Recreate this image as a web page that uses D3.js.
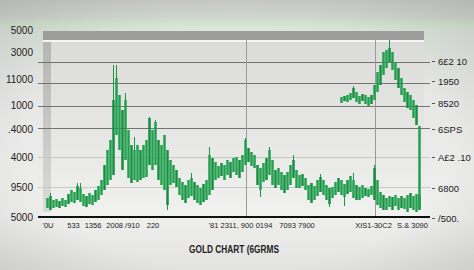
<!DOCTYPE html>
<html>
<head>
<meta charset="utf-8">
<script src="https://cdn.jsdelivr.net/npm/d3@7"></script>
<style>
  body { margin: 0; background: #e9e9e8; }
  svg { display: block; }
  text { font-family: "Liberation Sans", Arial, sans-serif; fill: #222; }
</style>
</head>
<body>
<div id="chart-area"></div>
<script>
// ---- data ----
// main series, candle bodies
var highs = [190,210,170,180,160,190,170,230,270,250,310,290,230,210,240,220,270,310,370,520,
  670,770,1170,1390,1220,1070,1170,870,720,670,720,670,720,770,990,870,950,770,720,820,
  670,570,520,470,390,350,320,370,390,350,320,290,330,370,620,590,550,510,540,520,
  570,550,590,600,570,620,770,690,650,620,520,490,540,590,670,570,470,490,450,420,
  450,520,570,470,420,430,390,320,340,310,370,400,370,320,290,300,350,390,370,330,
  370,410,370,320,300,320,290,280,310,490,370,250,220,190,210,200,220,190,210,190,
  220,240,210,230,220];
var lows = [90,70,90,100,90,110,100,130,150,140,170,150,110,100,130,120,150,170,220,270,
  320,370,420,820,670,470,570,390,340,370,350,370,390,400,520,470,520,370,320,270,
  120,320,340,300,220,170,140,190,210,170,140,120,150,170,220,270,370,390,410,370,
  420,390,450,420,390,450,520,550,510,490,320,270,350,370,420,320,290,320,270,240,
  270,320,390,290,290,310,270,170,140,170,210,250,220,170,130,190,220,250,220,200,
  230,250,190,170,170,190,210,200,220,170,120,90,70,70,100,70,110,70,90,80,
  50,90,70,50,70];
// wick extremes [index, value]
var spikes = [[1,240],[10,340],[11,340],[22,1520],[23,1520],[26,1240],[29,800],[34,1000],
  [36,970],[40,70],[48,440],[54,700],[66,790],[71,200],[74,700],[82,620],[91,430],
  [94,100],[99,110],[102,440],[109,520]];

// upper series on the right, starts at candle 98
var upperStart = 98;
var upperHighs = [1200,1210,1220,1240,1290,1250,1210,1230,1220,1200,1220,1320,1450,1520,
  1650,1670,1690,1650,1550,1490,1390,1290,1250,1220,1170,1120,910];
var upperLows = [1140,1160,1150,1170,1190,1150,1130,1160,1130,1110,1130,1170,1250,1320,
  1420,1490,1550,1470,1370,1290,1220,1150,1090,1070,990,920,90];
var upperSpikes = [[102,1310],[114,1770]];

// axis labels
var leftTickValues = [1870,1650,1380,1120,880,600,300,0];
var leftTickLabels = ["5000","3000","11000","1000",".4000","4000","9500","5000"];
var rightTickValues = [1560,1360,1140,880,600,290,-10];
var rightTickLabels = ["6£2 10","1950","8520","6SPS","A£2 .10","6800","/500."];
var gridDark = [1550,1340,1110,890];
var gridLight = [600,300];
var xTickIdx = [0,8.5,15,25,35,61,72,83,108.5,121.5];
var xTickLabels = ["'0U","533","1356","2008 /910","220","'81 2311, 900","0194","7093 7900","XIS1-30C2","S.& 3090"];
var vLineIdx = [66, 109.3];

var W = 474, H = 270;

var svg = d3.select("#chart-area").append("svg")
    .attr("width", W).attr("height", H);

var defs = svg.append("defs");

// page background gradient with green glow near the top
var bg = defs.append("linearGradient").attr("id", "bg")
    .attr("x1", 0).attr("y1", 0).attr("x2", 0).attr("y2", 1);
[[0, "#cdcfcd"], [0.06, "#d3d8d2"], [0.095, "#d6e8d3"], [0.11, "#dde6dc"],
 [0.3, "#e6e6e5"], [0.8, "#efefee"], [1, "#e2e2e1"]].forEach(function(s){
    bg.append("stop").attr("offset", s[0]).attr("stop-color", s[1]);
});
var vig = defs.append("radialGradient").attr("id", "vig")
    .attr("cx", 0.5).attr("cy", 0.55).attr("r", 0.75);
vig.append("stop").attr("offset", 0.6).attr("stop-color", "#000").attr("stop-opacity", 0);
vig.append("stop").attr("offset", 1).attr("stop-color", "#000").attr("stop-opacity", 0.12);

var plotBg = defs.append("linearGradient").attr("id", "plotbg")
    .attr("x1", 0).attr("y1", 0).attr("x2", 0).attr("y2", 1);
plotBg.append("stop").attr("offset", 0).attr("stop-color", "#dbdbda");
plotBg.append("stop").attr("offset", 1).attr("stop-color", "#f1f1f0");

var strip = defs.append("linearGradient").attr("id", "strip")
    .attr("x1", 0).attr("y1", 0).attr("x2", 0).attr("y2", 1);
strip.append("stop").attr("offset", 0).attr("stop-color", "#b5b5b4");
strip.append("stop").attr("offset", 1).attr("stop-color", "#dadad9");

svg.append("rect").attr("width", W).attr("height", H).attr("fill", "url(#bg)");
svg.append("rect").attr("width", W).attr("height", H).attr("fill", "url(#vig)");

// scales
var x = d3.scaleLinear().domain([0, 124]).range([47.5, 419.5]);
var y = d3.scaleLinear().domain([0, 1770]).range([217, 40]);

// plot panel
svg.append("rect").attr("x", 43).attr("y", 40).attr("width", 381).attr("height", 177)
    .attr("fill", "url(#plotbg)");
svg.append("rect").attr("x", 43).attr("y", 31).attr("width", 381).attr("height", 9)
    .attr("fill", "#9d9d9c");
svg.append("rect").attr("x", 43).attr("y", 40).attr("width", 381).attr("height", 2)
    .attr("fill", "#f5f5f5");
svg.append("rect").attr("x", 43).attr("y", 42).attr("width", 8).attr("height", 170)
    .attr("fill", "url(#strip)");

// gridlines
svg.selectAll(".grid-dark").data(gridDark).enter().append("line")
    .attr("x1", 38).attr("x2", 430)
    .attr("y1", function(d){ return Math.round(y(d)) + 0.5; })
    .attr("y2", function(d){ return Math.round(y(d)) + 0.5; })
    .attr("stroke", "#737373").attr("stroke-width", 1);
svg.selectAll(".grid-light").data(gridLight).enter().append("line")
    .attr("x1", 38).attr("x2", 430)
    .attr("y1", function(d){ return Math.round(y(d)) + 0.5; })
    .attr("y2", function(d){ return Math.round(y(d)) + 0.5; })
    .attr("stroke", "#c9c9c8").attr("stroke-width", 1);
svg.selectAll(".vline").data(vLineIdx).enter().append("line")
    .attr("x1", function(d){ return Math.round(x(d)) + 0.5; })
    .attr("x2", function(d){ return Math.round(x(d)) + 0.5; })
    .attr("y1", 40).attr("y2", 217)
    .attr("stroke", "#9a9a9a").attr("stroke-width", 1);

// candles
function drawCandles(cls, offset, hi, lo, sp) {
    var idx = d3.range(hi.length);
    svg.selectAll("." + cls + "-wick").data(sp).enter().append("line")
        .attr("x1", function(d){ return x(d[0]); })
        .attr("x2", function(d){ return x(d[0]); })
        .attr("y1", function(d){ return y(d[1]); })
        .attr("y2", function(d){ return y((hi[d[0] - offset] + lo[d[0] - offset]) / 2); })
        .attr("stroke", "#1d9645").attr("stroke-width", 1);
    svg.selectAll("." + cls).data(idx).enter().append("rect")
        .attr("x", function(i){ return x(i + offset) - 1.25; })
        .attr("width", 2.5)
        .attr("y", function(i){ return y(hi[i]); })
        .attr("height", function(i){ return y(lo[i]) - y(hi[i]); })
        .attr("fill", function(i){ return i % 3 == 1 ? "#168f41" : "#21a14d"; });
}
drawCandles("main", 0, highs, lows, spikes);
drawCandles("upper", upperStart, upperHighs, upperLows, upperSpikes);

// baseline
svg.append("line").attr("x1", 38).attr("x2", 430).attr("y1", 217).attr("y2", 217)
    .attr("stroke", "#111").attr("stroke-width", 2);

// left axis labels
var leftAxis = d3.axisLeft(y).tickValues(leftTickValues).tickSize(0).tickPadding(0)
    .tickFormat(function(d, i){ return leftTickLabels[i]; });
svg.append("g").attr("transform", "translate(33,0)").call(leftAxis)
    .call(function(g){ g.select(".domain").remove(); })
    .selectAll("text").style("font-size", "10px").attr("fill", "#1e1e1e");

// right axis labels with small tick marks
var rightAxis = d3.axisRight(y).tickValues(rightTickValues).tickSize(3).tickPadding(3)
    .tickFormat(function(d, i){ return rightTickLabels[i]; });
var ra = svg.append("g").attr("transform", "translate(432,0)").call(rightAxis);
ra.select(".domain").remove();
ra.selectAll("line").attr("stroke", "#555");
ra.selectAll("text").style("font-size", "9.5px").attr("fill", "#1e1e1e");

// x axis labels
var xAxis = d3.axisBottom(x).tickValues(xTickIdx).tickSize(0).tickPadding(0)
    .tickFormat(function(d, i){ return xTickLabels[i]; });
var xa = svg.append("g").attr("transform", "translate(0,223)").call(xAxis);
xa.select(".domain").remove();
xa.selectAll("text").style("font-size", "7.5px").attr("fill", "#222");

// title
svg.append("text").attr("x", 234).attr("y", 253).attr("text-anchor", "middle")
    .attr("textLength", 90).attr("lengthAdjust", "spacingAndGlyphs")
    .style("font-size", "10.5px").style("font-weight", "bold").attr("fill", "#2a2a2a")
    .text("GOLD CHART (6GRMS");
</script>
</body>
</html>
